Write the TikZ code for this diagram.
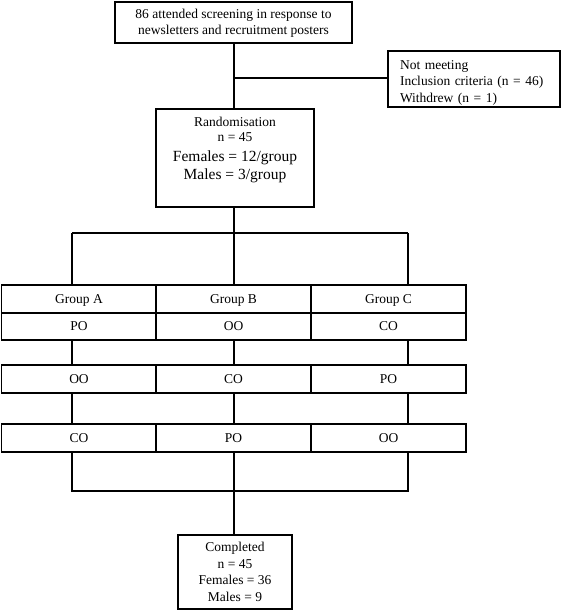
\documentclass[tikz,border=0pt]{standalone}
\usepackage{fontspec}
\setmainfont{Liberation Serif}
\usepackage{tikz}

\begin{document}
\begin{tikzpicture}[x=1pt,y=-1pt,line width=1.2pt,
    box/.style={draw,align=center,inner sep=0pt,font=\fontsize{13.5}{16.5}\selectfont},
    cell/.style={draw,minimum width=155pt,minimum height=28pt,inner sep=0pt,font=\fontsize{13.5}{16}\selectfont}]
    \useasboundingbox (0,0) rectangle (563,612);
    % screening and exclusions
    \node[box,minimum width=237pt,minimum height=41pt] (screen) at (233.5,22.5) {\rule{0pt}{11pt}86 attended screening in response to\\newsletters and recruitment posters};
    \node[box,align=left,text width=148pt,inner xsep=12pt,minimum height=56pt] (excl) at (474,79) {\rule{0pt}{16pt}Not meeting\\Inclusion criteria (n = 46)\\Withdrew (n = 1)};
    \node[draw,minimum width=158pt,minimum height=98pt,inner sep=0pt] (rand) at (235,158) {};
    \node[anchor=north,align=center,inner sep=0pt,font=\fontsize{13.5}{18}\selectfont] (randtxt) at (235,117) {Randomisation\\[-3pt]n = 45\\[2pt]\fontsize{15.5}{18}\selectfont Females = 12/group\\\fontsize{15.5}{18}\selectfont Males = 3/group};
    \coordinate (exj) at (234,78);
    \draw (screen.south -| exj) -- (rand.north -| exj);
    \draw (exj) -- (excl.west |- exj);
    % groups and periods
    \node[cell] (gA) at (79,299) {\rule{0pt}{11pt}Group A};
    \node[cell] (gB) at (233.5,299) {\rule{0pt}{11pt}Group B};
    \node[cell] (gC) at (388.5,299) {\rule{0pt}{11pt}Group C};
    \node[cell,minimum height=27pt] (pA1) at (79,326.5) {PO};
    \node[cell,minimum height=27pt] (pB1) at (233.5,326.5) {OO};
    \node[cell,minimum height=27pt] (pC1) at (388.5,326.5) {CO};
    \node[cell] (pA2) at (79,379) {OO};
    \node[cell] (pB2) at (233.5,379) {CO};
    \node[cell] (pC2) at (388.5,379) {PO};
    \node[cell] (pA3) at (79,438) {CO};
    \node[cell] (pB3) at (233.5,438) {PO};
    \node[cell] (pC3) at (388.5,438) {OO};
    \coordinate (sl) at (72,233);
    \coordinate (sm) at (234,233);
    \coordinate (sr) at (408,233);
    \draw (rand.south -| sm) -- (sm);
    \draw (sl) -- (sr);
    \draw (sl) -- (sl |- gA.north);
    \draw (sm) -- (sm |- gB.north);
    \draw (sr) -- (sr |- gC.north);
    \draw (pA1.south -| sl) -- (pA2.north -| sl);
    \draw (pB1.south -| sm) -- (pB2.north -| sm);
    \draw (pC1.south -| sr) -- (pC2.north -| sr);
    \draw (pA2.south -| sl) -- (pA3.north -| sl);
    \draw (pB2.south -| sm) -- (pB3.north -| sm);
    \draw (pC2.south -| sr) -- (pC3.north -| sr);
    % completion
    \node[box,minimum width=114pt,minimum height=74pt] (done) at (235,572) {Completed\\n = 45\\Females = 36\\Males = 9};
    \coordinate (jl) at (72,491);
    \coordinate (jm) at (234,491);
    \coordinate (jr) at (408,491);
    \draw (pA3.south -| jl) -- (jl) -- (jr) -- (pC3.south -| jr);
    \draw (pB3.south -| jm) -- (jm) -- (done.north -| jm);
\end{tikzpicture}
\end{document}
